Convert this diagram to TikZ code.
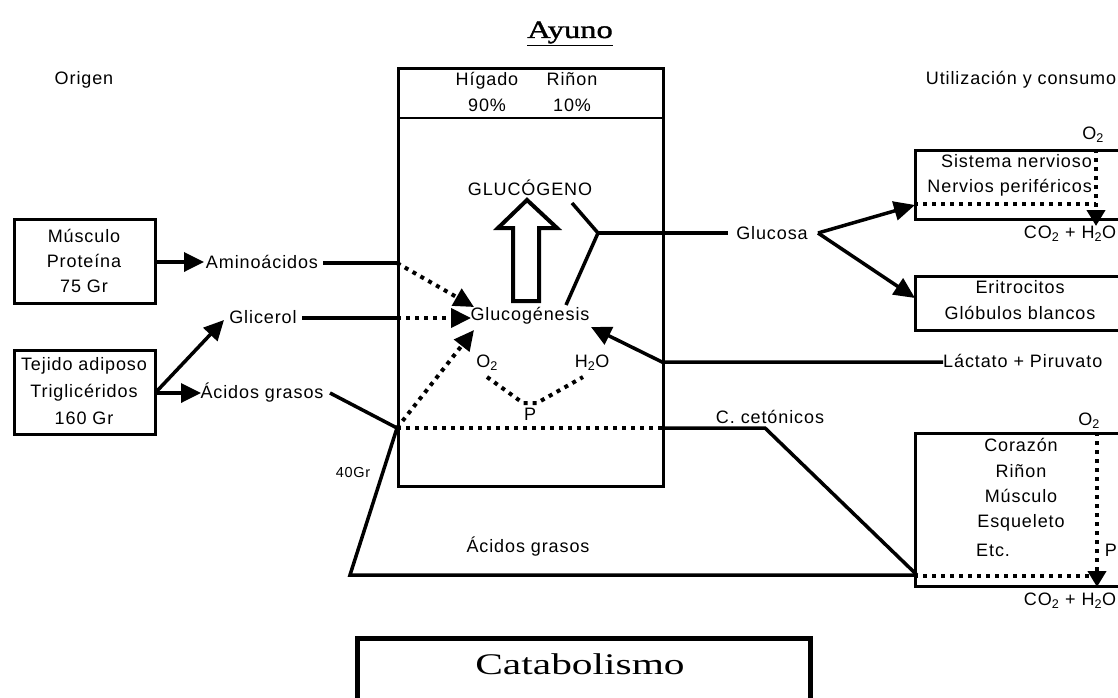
\documentclass[tikz,border=0pt]{standalone}
\usepackage{fontspec}
\setmainfont{Liberation Sans}[LetterSpace=5]
\newfontfamily\titlefont{Liberation Serif}[FakeStretch=1.38]
\newfontfamily\titlebold{Liberation Serif}[FakeStretch=1.3, FakeBold=1.5]
\usetikzlibrary{arrows.meta}
\begin{document}
\begin{tikzpicture}[x=1pt,y=-1pt,
  txt/.style={inner sep=0pt, font=\fontsize{18}{25.3}\selectfont, align=center},
  small/.style={inner sep=0pt, font=\fontsize{14.5}{16}\selectfont},
  sline/.style={line width=3.5pt},
  dline/.style={line width=4pt, dash pattern=on 4pt off 5pt},
  tip/.style={-{Triangle[length=20pt,width=19pt]}},
  bigtip/.style={-{Triangle[length=21pt,width=19pt]}},
  vtip/.style={-{Triangle[length=16pt,width=18pt]}},
  boxline/.style={line width=2.6pt},
  boxnode/.style={draw, boxline, inner sep=0pt, anchor=north west}]
\useasboundingbox (0,0) rectangle (1118,698);
\fill[white] (0,0) rectangle (1118,698);

% title
\node[inner sep=0pt, anchor=base, font=\titlebold\fontsize{25}{30}\selectfont] (ayuno) at (570,38) {\underline{Ayuno}};
\node[txt] (origen) at (84,80) {Origen};
\node[txt] (util) at (1021,80) {Utilización y consumo};

% central box
\node[boxnode, minimum width=265, minimum height=418] (central) at (397,67) {};
\coordinate (divl) at (397,118);
\coordinate (divr) at (662,118);
\draw[boxline] (divl) -- (divr);
\node[txt] (higado) at (487,92) {Hígado\\90\%};
\node[txt] (rinon) at (572,92) {Riñon\\10\%};
\node[txt] (glucogeno) at (530,188) {GLUCÓGENO};
\node[txt] (gneo) at (530,316) {Glucogénesis};
\node[txt] (o2c) at (487,363) {O\textsubscript{2}};
\node[txt] (h2oc) at (592,363) {H\textsubscript{2}O};
\node[txt] (pc) at (530,414) {P};

% hollow arrow
\draw[line width=4pt, fill=white, line join=miter]
  (513,301) -- (513,228) -- (498,228) -- (527,200) -- (557,228) -- (539,228) -- (539,301) -- cycle;

% left boxes
\node[boxnode, minimum width=141, minimum height=84] (musculo) at (13,218) {};
\node[txt] (musculotxt) at (84,261) {Músculo\\Proteína\\75 Gr};
\node[boxnode, minimum width=141, minimum height=84] (tejido) at (13,349) {};
\node[txt, font=\fontsize{18}{27}\selectfont] (tejidotxt) at (84,391) {Tejido adiposo\\Triglicéridos\\160 Gr};

\node[txt] (amino) at (262,262) {Aminoácidos};
\node[txt] (glicerol) at (263,317) {Glicerol};
\node[txt] (acidos) at (262,393) {Ácidos grasos};
\node[small] (g40) at (353,473) {40Gr};
\node[txt] (acidos2) at (528,547) {Ácidos grasos};
\node[txt] (cceto) at (770,417) {C. cetónicos};
\node[txt] (glucosa) at (772,233) {Glucosa};

% coordinates
\coordinate (mus_e) at (154,262);
\coordinate (amino_w) at (204,262);
\coordinate (tej_e) at (154,393);
\coordinate (tej_d) at (157,391);
\coordinate (acid_w) at (201,393);
\coordinate (glic_w) at (224,320);
\coordinate (amino_e) at (323,263);
\coordinate (amino_b) at (397,263);
\coordinate (gn_a) at (474,307);
\coordinate (glic_e) at (302,318);
\coordinate (glic_b) at (397,318);
\coordinate (gn_b) at (471,318);
\coordinate (J) at (397,428);
\coordinate (gn_c) at (474,330);
\coordinate (acid_e) at (330,393);
\coordinate (bl) at (350,575);
\coordinate (br) at (917,575);
\coordinate (dr) at (662,428);
\coordinate (kt) at (765,428);
\coordinate (gg) at (572,203);
\coordinate (fork) at (598,233);
\coordinate (gn_r) at (566,305);
\coordinate (gl_w) at (728,233);
\coordinate (gl_e) at (818,233);
\coordinate (sn_in) at (915,205);
\coordinate (er_in) at (915,298);
\coordinate (lac_w) at (943,362);
\coordinate (lac_b) at (662,362);
\coordinate (gn_d) at (591,327);
\coordinate (p1) at (487,377);
\coordinate (p2) at (523,403);
\coordinate (p3) at (537,403);
\coordinate (p4) at (583,377);

% arrows from sources
\draw[sline, tip] (mus_e) -- (amino_w);
\draw[sline, tip] (tej_e) -- (acid_w);
\draw[sline, tip] (tej_d) -- (glic_w);

% into glucogenesis
\draw[sline] (amino_e) -- (amino_b);
\draw[dline, tip] (amino_b) -- (gn_a);
\draw[sline] (glic_e) -- (glic_b);
\draw[dline, tip] (glic_b) -- (gn_b);
\draw[dline, tip] (J) -- (gn_c);
\draw[sline, line join=miter] (acid_e) -- (J) -- (bl) -- (br);
\draw[dline] (J) -- (dr);
\draw[sline, line join=miter] (dr) -- (kt) -- (br);
\draw[dline] (p1) -- (p2) -- (p3) -- (p4);

% glucose
\draw[sline, line join=miter] (gg) -- (fork) -- (gn_r);
\draw[sline] (fork) -- (gl_w);
\draw[sline, bigtip] (gl_e) -- (sn_in);
\draw[sline, bigtip] (gl_e) -- (er_in);
\draw[sline, line join=miter, tip] (lac_w) -- (lac_b) -- (gn_d);

% right boxes
\node[boxnode, minimum width=220, minimum height=69] (snbox) at (914,149) {};
\node[txt, align=right, anchor=east] (sntxt) at (1092,175) {Sistema nervioso\\Nervios periféricos};
\node[txt] (o2a) at (1093,135) {O\textsubscript{2}};
\node[txt] (co2a) at (1070,234) {CO\textsubscript{2} + H\textsubscript{2}O};
\coordinate (sn_t) at (1096,149);
\coordinate (sn_tip) at (1096,226);
\coordinate (sn_l) at (914,204);
\coordinate (sn_r) at (1096,204);
\draw[dline] (sn_l) -- (sn_r);
\draw[dline, vtip] (sn_t) -- (sn_tip);

\node[boxnode, minimum width=220, minimum height=54] (erbox) at (914,275) {};
\node[txt] (ertxt) at (1020,300) {Eritrocitos\\Glóbulos blancos};
\node[txt, anchor=west] (lac) at (943,361) {Láctato + Piruvato};

\node[boxnode, minimum width=220, minimum height=153] (cobox) at (914,432) {};
\node[txt] (cotxt) at (1021,485) {Corazón\\Riñon\\Músculo\\Esqueleto};
\node[txt, anchor=west] (etc) at (976,550) {Etc.};
\node[txt] (o2b) at (1089,421) {O\textsubscript{2}};
\node[txt, anchor=east] (pb) at (1117,550) {P};
\node[txt] (co2b) at (1070,601) {CO\textsubscript{2} + H\textsubscript{2}O};
\coordinate (co_t) at (1097,432);
\coordinate (co_tip) at (1097,587);
\coordinate (co_l) at (914,576);
\coordinate (co_r) at (1097,576);
\draw[dline] (co_l) -- (co_r);
\draw[dline, vtip] (co_t) -- (co_tip);

% catabolismo
\node[draw, line width=5pt, inner sep=0pt, anchor=north west, minimum width=453, minimum height=80] (catabox) at (355,636) {};
\node[inner sep=0pt, font=\titlefont\fontsize{30}{36}\selectfont] (cata) at (580,664) {Catabolismo};
\end{tikzpicture}
\end{document}
